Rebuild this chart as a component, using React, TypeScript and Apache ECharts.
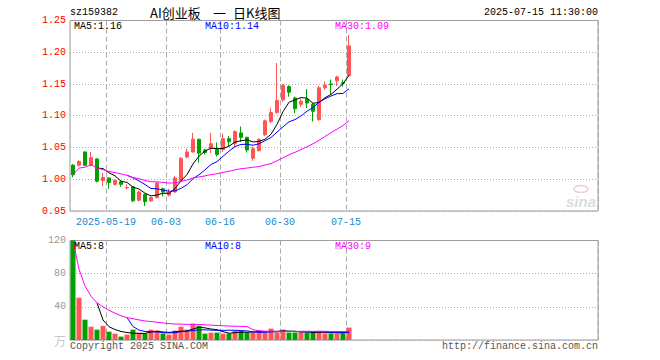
import React, { useEffect, useRef } from 'react';
import * as echarts from 'echarts';

const dates = [
  '2025-05-09', '2025-05-12', '2025-05-13', '2025-05-14', '2025-05-15', '2025-05-16',
  '2025-05-19', '2025-05-20', '2025-05-21', '2025-05-22', '2025-05-23', '2025-05-26',
  '2025-05-27', '2025-05-28', '2025-05-29', '2025-05-30', '2025-06-03', '2025-06-04',
  '2025-06-05', '2025-06-06', '2025-06-09', '2025-06-10', '2025-06-11', '2025-06-12',
  '2025-06-13', '2025-06-16', '2025-06-17', '2025-06-18', '2025-06-19', '2025-06-20',
  '2025-06-23', '2025-06-24', '2025-06-25', '2025-06-26', '2025-06-27', '2025-06-30',
  '2025-07-01', '2025-07-02', '2025-07-03', '2025-07-04', '2025-07-07', '2025-07-08',
  '2025-07-09', '2025-07-10', '2025-07-11', '2025-07-14', '2025-07-15',
];

const opens = [
  1.022, 1.022, 1.043, 1.022, 1.032, 0.998, 1.002, 0.992, 0.996, 0.9865,
  0.988, 0.967, 0.976, 0.966, 0.971, 0.985, 0.975, 0.980, 0.998, 1.035,
  1.043, 1.063, 1.046, 1.049, 1.047, 1.047, 1.064, 1.056, 1.073, 1.066,
  1.033, 1.045, 1.070, 1.091, 1.105, 1.125, 1.146, 1.128, 1.118, 1.126,
  1.118, 1.094, 1.144, 1.150, 1.155, 1.152, 1.163,
];
const closes = [
  1.007, 1.028, 1.022, 1.034, 0.997, 1.003, 0.995, 0.998, 0.992, 0.987,
  0.966, 0.980, 0.965, 0.971, 0.994, 0.980, 0.979, 1.002, 1.033, 1.043,
  1.063, 1.041, 1.042, 1.056, 1.039, 1.064, 1.059, 1.075, 1.066, 1.046,
  1.048, 1.063, 1.092, 1.105, 1.124, 1.148, 1.137, 1.111, 1.123, 1.120,
  1.107, 1.144, 1.148, 1.149, 1.161, 1.151, 1.210,
];
const lows = [
  1.003, 1.020, 1.021, 1.020, 0.995, 0.989, 0.985, 0.990, 0.988, 0.984,
  0.964, 0.965, 0.958, 0.964, 0.970, 0.973, 0.973, 0.979, 0.997, 1.033,
  1.042, 1.026, 1.039, 1.041, 1.036, 1.043, 1.051, 1.051, 1.059, 1.042,
  1.029, 1.044, 1.068, 1.088, 1.103, 1.122, 1.130, 1.104, 1.114, 1.112,
  1.091, 1.092, 1.141, 1.134, 1.147, 1.146, 1.162,
];
const highs = [
  1.024, 1.030, 1.044, 1.043, 1.033, 1.010, 1.003, 1.000, 0.997, 0.992,
  0.989, 0.982, 0.977, 0.973, 0.995, 0.987, 0.985, 1.005, 1.035, 1.048,
  1.073, 1.064, 1.048, 1.073, 1.058, 1.072, 1.068, 1.077, 1.083, 1.067,
  1.051, 1.064, 1.094, 1.112, 1.183, 1.150, 1.148, 1.130, 1.127, 1.142,
  1.120, 1.147, 1.154, 1.157, 1.163, 1.157, 1.227,
];
// volume in 万
const volumes = [
  120, 51, 24.5, 16, 12.5, 17, 10, 7.7, 4.1, 6.5,
  12.5, 8.9, 7.7, 12.5, 11.3, 7.7, 6.5, 11.3, 16, 12.5,
  19.7, 17.3, 7.7, 8.9, 8.9, 7.7, 7.7, 11.3, 11.3, 8.9,
  8.9, 11.3, 8.9, 13.7, 8.9, 12.5, 9, 9, 9, 9,
  9, 11, 8, 8, 8, 8, 15,
];

const labelIndex = [6, 16, 25, 35, 46];
const labelText = ['2025-05-19', '06-03', '06-16', '06-30', '07-15'];
const priceLegend = ['MA5:1.16', 'MA10:1.14', 'MA30:1.09'];
const volLegend = ['MA5:8', 'MA10:8', 'MA30:9'];
const SLOTS = 88;

const RED = '#ff5555';
const GREEN = '#00a000';
const MONO = "'Liberation Mono', 'DejaVu Sans Mono', monospace";
const CJK = "'Noto Sans CJK SC', sans-serif";

function movingAvg(arr: number[], n: number, fillStart: boolean) {
  return arr.map((_, i) => {
    if (i < n - 1 && !fillStart) return '-';
    const s = Math.max(0, i - n + 1);
    const w = arr.slice(s, i + 1);
    return +(w.reduce((a, b) => a + b, 0) / w.length).toFixed(4);
  });
}

const cats: string[] = [];
for (let i = 0; i < SLOTS; i++) cats.push(i < dates.length ? dates[i] : 'slot' + i);

const isLabel = (i: number) => labelIndex.indexOf(i) >= 0;

function buildOption() {
  const candleData = opens.map((o, i) => [o, closes[i], lows[i], highs[i]]);
  const volData = volumes.map((v, i) => ({
    value: v,
    itemStyle: { color: closes[i] >= opens[i] ? RED : GREEN },
  }));
  const lineS = (name: string, data: any[], color: string, xi: number) => ({
    name,
    type: 'line',
    xAxisIndex: xi,
    yAxisIndex: xi,
    data,
    showSymbol: false,
    symbol: 'none',
    smooth: false,
    lineStyle: { color, width: 1 },
    emphasis: { disabled: true },
    z: 5,
  });
  const splitX = {
    show: true,
    interval: (i: number) => isLabel(i),
    lineStyle: { color: '#aaaaaa', width: 1, type: [5, 3] },
  };
  const legendTxt = (text: string, x: number, y: number, fill: string) => ({
    type: 'text',
    x,
    y,
    silent: true,
    z: 10,
    style: { text, fill, font: `10px ${MONO}`, align: 'left', verticalAlign: 'middle' },
  });
  const legColors = ['#000000', '#0000ff', '#ff00ff'];
  const legX = [74, 205, 335];

  return {
    animation: false,
    backgroundColor: '#ffffff',
    grid: [
      { left: 70, top: 20.5, width: 528, height: 190.5, show: true, borderColor: '#999999', borderWidth: 1, backgroundColor: 'transparent' },
      { left: 70, top: 240.5, width: 528, height: 99.5, show: true, borderColor: '#999999', borderWidth: 1, backgroundColor: 'transparent' },
    ],
    xAxis: [
      {
        type: 'category',
        gridIndex: 0,
        data: cats,
        boundaryGap: true,
        axisLine: { show: false },
        axisTick: { show: false },
        axisLabel: {
          show: true,
          interval: (i: number) => isLabel(i),
          formatter: (_v: string, i: number) => {
            const k = labelIndex.indexOf(i);
            return k >= 0 ? labelText[k] : '';
          },
          color: '#1a8ad2',
          fontFamily: MONO,
          fontSize: 10,
          margin: 6,
          padding: [0, 6, 0, 0],
        },
        splitLine: splitX,
      },
      {
        type: 'category',
        gridIndex: 1,
        data: cats,
        boundaryGap: true,
        axisLine: { show: false },
        axisTick: { show: false },
        axisLabel: { show: false },
        splitLine: splitX,
      },
    ],
    yAxis: [
      {
        type: 'value',
        gridIndex: 0,
        min: 0.95,
        max: 1.25,
        interval: 0.05,
        axisLine: { show: false },
        axisTick: { show: false },
        axisLabel: {
          color: '#ff0000',
          fontFamily: MONO,
          fontSize: 10,
          margin: 4,
          formatter: (v: number) => v.toFixed(2),
        },
        splitLine: { show: true, lineStyle: { color: '#aaaaaa', width: 1, type: [1, 2] } },
      },
      {
        type: 'value',
        gridIndex: 1,
        min: 0,
        max: 120,
        interval: 40,
        axisLine: { show: false },
        axisTick: { show: false },
        axisLabel: {
          color: '#999999',
          fontFamily: MONO,
          fontSize: 10,
          margin: 4,
          formatter: (v: number) => (v === 0 ? '{w|万}' : String(Math.round(v))),
          rich: { w: { color: '#c8c8c8', fontFamily: CJK, fontSize: 12 } },
        },
        splitLine: { show: true, lineStyle: { color: '#aaaaaa', width: 1, type: [1, 2] } },
      },
    ],
    series: [
      {
        type: 'candlestick',
        xAxisIndex: 0,
        yAxisIndex: 0,
        data: candleData,
        barWidth: 4,
        itemStyle: { color: RED, color0: GREEN, borderColor: RED, borderColor0: GREEN, borderWidth: 1 },
        emphasis: { disabled: true },
        z: 3,
      },
      lineS('MA5', movingAvg(closes, 5, false), '#000000', 0),
      lineS('MA10', movingAvg(closes, 10, false), '#0000ff', 0),
      lineS('MA30', movingAvg(closes, 30, true), '#ff00ff', 0),
      {
        type: 'bar',
        xAxisIndex: 1,
        yAxisIndex: 1,
        data: volData,
        barWidth: 5,
        emphasis: { disabled: true },
        z: 3,
      },
      lineS('VMA5', movingAvg(volumes, 5, false), '#000000', 1),
      lineS('VMA10', movingAvg(volumes, 10, false), '#0000ff', 1),
      lineS('VMA30', movingAvg(volumes, 30, true), '#ff00ff', 1),
    ],
    graphic: [
      { type: 'text', x: 70, y: 12, silent: true, style: { text: 'sz159382', fill: '#000', font: `10px ${MONO}`, align: 'left', verticalAlign: 'middle' } },
      { type: 'text', x: 150, y: 12, silent: true, style: { text: 'AI创业板', fill: '#000', font: `13px ${CJK}`, align: 'left', verticalAlign: 'middle' } },
      { type: 'text', x: 213, y: 12, silent: true, style: { text: '一', fill: '#000', font: `13px ${CJK}`, align: 'left', verticalAlign: 'middle' } },
      { type: 'text', x: 233, y: 12, silent: true, style: { text: '日K线图', fill: '#000', font: `13px ${CJK}`, align: 'left', verticalAlign: 'middle' } },
      { type: 'text', x: 598, y: 12, silent: true, style: { text: '2025-07-15 11:30:00', fill: '#000', font: `10px ${MONO}`, align: 'right', verticalAlign: 'middle' } },
      ...priceLegend.map((t, k) => legendTxt(t, legX[k], 26.5, legColors[k])),
      ...volLegend.map((t, k) => legendTxt(t, legX[k], 246.5, legColors[k])),
      { type: 'text', x: 70, y: 346, silent: true, style: { text: 'Copyright 2025 SINA.COM', fill: '#555555', font: `10px ${MONO}`, align: 'left', verticalAlign: 'middle' } },
      { type: 'text', x: 598, y: 346, silent: true, style: { text: 'http://finance.sina.com.cn', fill: '#555555', font: `10px ${MONO}`, align: 'right', verticalAlign: 'middle' } },
      { type: 'ellipse', silent: true, z: 1, shape: { cx: 581, cy: 189, rx: 7, ry: 3.5 }, style: { fill: 'none', stroke: '#ead0d0', lineWidth: 1.5 } },
      { type: 'text', x: 566, y: 201, silent: true, z: 1, style: { text: 'sina', fill: '#dddddd', font: `italic bold 15px 'Liberation Sans', sans-serif`, align: 'left', verticalAlign: 'middle' } },
    ],
  };
}

export default function App() {
  const ref = useRef<HTMLDivElement>(null);
  useEffect(() => {
    const chart = echarts.init(ref.current!, undefined, { renderer: 'svg' });
    chart.setOption(buildOption() as any);
    return () => chart.dispose();
  }, []);
  return (
    <div
      ref={ref}
      style={{ position: 'fixed', left: 0, top: 0, width: 660, height: 360, background: '#fff' }}
    />
  );
}
